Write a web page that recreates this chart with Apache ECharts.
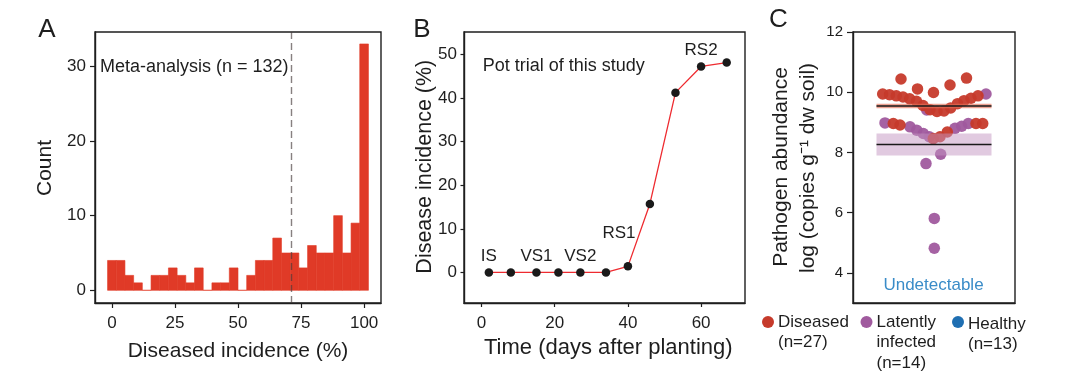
<!DOCTYPE html>
<html>
<head>
<meta charset="utf-8">
<script src="https://cdn.jsdelivr.net/npm/echarts@6/dist/echarts.min.js"></script>
<style>
  html, body { margin: 0; padding: 0; background: #fff; }
  #chart { width: 1080px; height: 376px; }
</style>
</head>
<body>
<div id="chart"></div>
<script>
// A: meta-analysis histogram (30 bins)
const histCounts = [4, 4, 2, 1, 0, 2, 2, 3, 2, 1, 3, 0, 1, 1, 3, 0, 2, 4, 4, 7, 5, 5, 3, 6, 5, 5, 10, 5, 9, 33]
const histBinStart = -1.72
const histBinWidth = 3.448
const metaMean = 71.3
const histXTicks = [0, 25, 50, 75, 100]
const histYTicks = [0, 10, 20, 30]

// B: pot trial
const potDays = [2, 8, 15, 21, 27, 34, 40, 46, 53, 60, 67]
const potIncidence = [0, 0, 0, 0, 0, 0, 1.4, 15.7, 41.2, 47.2, 48.1]
const potStages = ['IS', '', 'VS1', '', 'VS2', '', 'RS1', '', '', 'RS2', '']
const potXTicks = [0, 20, 40, 60]
const potYTicks = [0, 10, 20, 30, 40, 50]

// C: pathogen abundance, [swarm offset, log copies]
const diseasedPoints = [
  [-33, 10.44], [-16.5, 10.11], [-0.5, 9.99], [16, 10.24], [32.5, 10.47],
  [-51.3, 9.94], [-44.5, 9.92], [-37.7, 9.88], [-31, 9.84], [-24.3, 9.78],
  [-17.5, 9.7], [-11, 9.56], [-4, 9.42], [3, 9.36], [10, 9.38],
  [16.7, 9.48], [23.5, 9.62], [30, 9.72], [37, 9.8], [44, 9.88],
  [-40.7, 8.96], [-34, 8.91], [-0.7, 8.46], [6, 8.52], [13.3, 8.68], [42, 8.96], [48.7, 8.96]
]
const latentPoints = [
  [52, 9.94], [-7.3, 9.41], [-49, 8.98], [-24, 8.85], [-17.3, 8.74],
  [-10.7, 8.63], [-4.7, 8.52], [21, 8.8], [27.7, 8.87], [34.3, 8.96],
  [6.7, 7.94], [-8, 7.63], [0.3, 5.81], [0.3, 4.82]
]
// [lower, upper, mean]
const groupSummary = [
  [9.47, 9.62, 9.54],
  [7.9, 8.63, 8.26]
]
const abundanceTicks = [4, 6, 8, 10, 12]

const font = 'Liberation Sans, Arial, sans-serif'
const ink = '#1e1e1e'
const bandColors = ['rgba(228,112,88,0.65)', 'rgba(196,150,194,0.5)']

const chart = echarts.init(document.getElementById('chart'))

function boxAxis(extra) {
  return Object.assign({
    type: 'value',
    axisLine: { show: true, onZero: false, lineStyle: { color: ink, width: 1.4 } },
    axisTick: { show: true, length: 5, lineStyle: { color: ink, width: 1.2 } },
    axisLabel: { color: ink, fontSize: 17, fontFamily: font },
    splitLine: { show: false }
  }, extra)
}

function text(x, y, str, size, opts) {
  return Object.assign({
    type: 'text', x, y,
    style: { text: str, fill: ink, font: size + 'px ' + font, align: 'center', verticalAlign: 'middle' }
  }, opts || {})
}

const legendItems = [
  { x: 768, color: '#c63a2b', lines: ['Diseased', '(n=27)'] },
  { x: 866.5, color: '#a05a9e', lines: ['Latently', 'infected', '(n=14)'] },
  { x: 958, color: '#1f6fb2', lines: ['Healthy', '(n=13)'], dy: 2 }
]
const legendGraphics = []
legendItems.forEach(item => {
  legendGraphics.push({ type: 'circle', shape: { cx: item.x, cy: 322, r: 6 }, style: { fill: item.color } })
  item.lines.forEach((ln, i) => {
    legendGraphics.push(text(item.x + 10, 322 + (item.dy || 0) + i * 20.5, ln, 17,
      { style: { text: ln, fill: ink, font: '17px ' + font, align: 'left', verticalAlign: 'middle' } }))
  })
})

chart.setOption({
  animation: false,
  grid: [
    { left: 95, top: 32, width: 286, height: 271, show: true, borderColor: ink, borderWidth: 1.4 },
    { left: 464, top: 32, width: 281, height: 271, show: true, borderColor: ink, borderWidth: 1.4 },
    { left: 853, top: 32, width: 162, height: 271, show: true, borderColor: ink, borderWidth: 1.4 }
  ],
  xAxis: [
    boxAxis({ gridIndex: 0, min: -6.7, max: 106.7,
      axisTick: { show: true, length: 5, customValues: histXTicks, lineStyle: { color: ink, width: 1.2 } },
      axisLabel: { color: ink, fontSize: 17, fontFamily: font, margin: 12, customValues: histXTicks } }),
    boxAxis({ gridIndex: 1, min: -4.8, max: 72,
      axisTick: { show: true, length: 4, customValues: potXTicks, lineStyle: { color: ink, width: 1.2 } },
      axisLabel: { color: ink, fontSize: 17, fontFamily: font, margin: 12, customValues: potXTicks } }),
    boxAxis({ gridIndex: 2, min: -81, max: 81, axisTick: { show: false }, axisLabel: { show: false } })
  ],
  yAxis: [
    boxAxis({ gridIndex: 0, min: -1.7, max: 34.6,
      axisTick: { show: true, length: 5, customValues: histYTicks, lineStyle: { color: ink, width: 1.2 } },
      axisLabel: { color: ink, fontSize: 17, fontFamily: font, margin: 9, customValues: histYTicks } }),
    boxAxis({ gridIndex: 1, min: -7, max: 55.1,
      axisTick: { show: true, length: 3.5, customValues: potYTicks, lineStyle: { color: ink, width: 1.2 } },
      axisLabel: { color: ink, fontSize: 17, fontFamily: font, margin: 7, customValues: potYTicks } }),
    boxAxis({ gridIndex: 2, min: 3, max: 12,
      axisTick: { show: true, length: 6, customValues: abundanceTicks, lineStyle: { color: ink, width: 1.2 } },
      axisLabel: { color: ink, fontSize: 15, fontFamily: font, margin: 10, customValues: abundanceTicks } })
  ],
  series: [
    {
      type: 'custom',
      xAxisIndex: 0, yAxisIndex: 0,
      data: histCounts.map((c, i) => [histBinStart + i * histBinWidth, histBinStart + (i + 1) * histBinWidth, c]),
      encode: { x: [0, 1], y: 2 },
      renderItem(params, api) {
        const p0 = api.coord([api.value(0), api.value(2)])
        const p1 = api.coord([api.value(1), 0])
        return {
          type: 'rect',
          shape: { x: p0[0], y: p0[1], width: p1[0] - p0[0], height: p1[1] - p0[1] },
          style: { fill: '#e03a27', stroke: '#e03a27', lineWidth: 0.6 }
        }
      },
      markLine: {
        silent: true, symbol: 'none', label: { show: false },
        lineStyle: { color: 'rgba(70,60,60,0.65)', type: [7, 4], width: 1.4 },
        data: [{ xAxis: metaMean }]
      }
    },
    {
      type: 'line',
      xAxisIndex: 1, yAxisIndex: 1,
      data: potDays.map((d, i) => ({
        value: [d, potIncidence[i]],
        label: {
          show: potStages[i] !== '',
          formatter: potStages[i],
          offset: potStages[i] === 'RS1' ? [-9, -17] : [0, 0]
        }
      })),
      lineStyle: { color: '#ee2b30', width: 1.3 },
      symbol: 'circle', symbolSize: 8.5,
      itemStyle: { color: '#1a1a1a' },
      label: { position: 'top', distance: 3, color: ink, fontSize: 17, fontFamily: font }
    },
    {
      type: 'scatter',
      xAxisIndex: 2, yAxisIndex: 2,
      data: latentPoints,
      symbolSize: 11.5,
      itemStyle: { color: '#a05a9e', opacity: 0.95 }
    },
    {
      type: 'scatter',
      xAxisIndex: 2, yAxisIndex: 2,
      data: diseasedPoints,
      symbolSize: 11.5,
      itemStyle: { color: '#c63a2b', opacity: 0.95 }
    },
    {
      type: 'custom',
      xAxisIndex: 2, yAxisIndex: 2,
      z: 5,
      data: groupSummary,
      encode: { y: [0, 1, 2] },
      renderItem(params, api) {
        const half = 57.5
        const a = api.coord([-half, api.value(1)])
        const b = api.coord([half, api.value(0)])
        const m = api.coord([-half, api.value(2)])
        return {
          type: 'group',
          children: [
            { type: 'rect', shape: { x: a[0], y: a[1], width: b[0] - a[0], height: b[1] - a[1] },
              style: { fill: bandColors[params.dataIndex] } },
            { type: 'line', shape: { x1: a[0], y1: m[1], x2: b[0], y2: m[1] },
              style: { stroke: '#1a1a1a', lineWidth: 1.5 } }
          ]
        }
      }
    }
  ],
  graphic: [
    text(47, 30, 'A', 26),
    text(422, 30, 'B', 26),
    text(778.5, 20, 'C', 26),
    text(100, 67, 'Meta-analysis (n = 132)', 18, {
      style: { text: 'Meta-analysis (n = 132)', fill: ink, font: '18px ' + font, align: 'left', verticalAlign: 'middle' }
    }),
    text(45.7, 168, 'Count', 21, { rotation: Math.PI / 2 }),
    text(238, 351.5, 'Diseased incidence (%)', 21),
    text(482.7, 65.7, 'Pot trial of this study', 18, {
      style: { text: 'Pot trial of this study', fill: ink, font: '18px ' + font, align: 'left', verticalAlign: 'middle' }
    }),
    text(425, 166.7, 'Disease incidence (%)', 21.5, { rotation: Math.PI / 2 }),
    text(608.3, 348.3, 'Time (days after planting)', 22),
    text(781.7, 167, 'Pathogen abundance', 21, { rotation: Math.PI / 2 }),
    text(808.3, 168, 'log (copies g\u207b\u00b9 dw soil)', 21, { rotation: Math.PI / 2 }),
    text(933.5, 285, 'Undetectable', 17, {
      style: { text: 'Undetectable', fill: '#3a8cc8', font: '17px ' + font, align: 'center', verticalAlign: 'middle' }
    })
  ].concat(legendGraphics)
})
</script>
</body>
</html>
